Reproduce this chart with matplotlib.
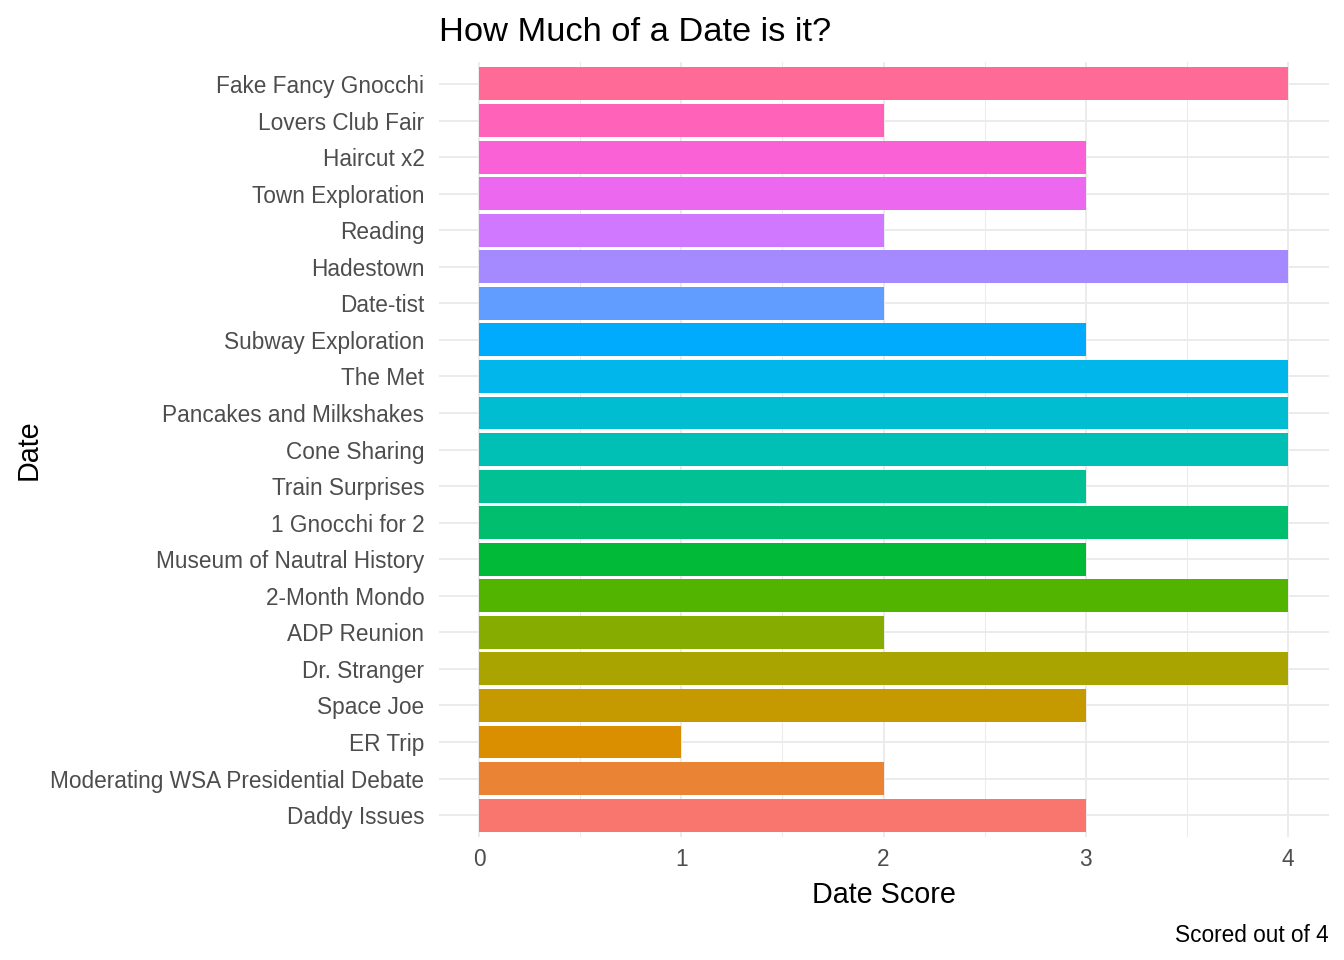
import numpy as np
import matplotlib.pyplot as plt

# dates listed bottom to top (factor order)
dates = ["Daddy Issues", "Moderating WSA Presidential Debate", "ER Trip", "Space Joe",
         "Dr. Stranger", "ADP Reunion", "2-Month Mondo", "Museum of Nautral History",
         "1 Gnocchi for 2", "Train Surprises", "Cone Sharing", "Pancakes and Milkshakes",
         "The Met", "Subway Exploration", "Date-tist", "Hadestown", "Reading",
         "Town Exploration", "Haircut x2", "Lovers Club Fair", "Fake Fancy Gnocchi"]
scores = [3, 2, 1, 3, 4, 2, 4, 3, 4, 3, 4, 4, 4, 3, 2, 4, 2, 3, 3, 2, 4]


def hcl_to_hex(h, c=100, l=65):
    # polar LUV -> XYZ -> sRGB, like R's hcl()
    wx, wy, wz = 95.047, 100.0, 108.883
    u = c * np.cos(np.radians(h))
    v = c * np.sin(np.radians(h))
    y = wy * (((l + 16) / 116) ** 3 if l > 8 else l / 903.3)
    un = 4 * wx / (wx + 15 * wy + 3 * wz)
    vn = 9 * wy / (wx + 15 * wy + 3 * wz)
    up = u / (13 * l) + un
    vp = v / (13 * l) + vn
    x = 9.0 * y * up / (4 * vp)
    z = -x / 3 - 5 * y + 3 * y / vp
    x, y, z = x / 100, y / 100, z / 100
    r = 3.240479 * x - 1.537150 * y - 0.498535 * z
    g = -0.969256 * x + 1.875992 * y + 0.041556 * z
    b = 0.055648 * x - 0.204043 * y + 1.057311 * z

    def gam(t):
        t = 1.055 * t ** (1 / 2.4) - 0.055 if t > 0.0031308 else 12.92 * t
        return int(round(255 * min(max(t, 0), 1)))
    return "#{:02X}{:02X}{:02X}".format(gam(r), gam(g), gam(b))


n = len(dates)
hues = np.linspace(15, 375, n + 1)[:n]
colors = [hcl_to_hex(h) for h in hues]

plt.rcParams['font.family'] = ['Liberation Sans', 'DejaVu Sans']

fig = plt.figure(figsize=(7, 5), dpi=192)
ax = fig.add_axes([0.3263, 0.1281, 0.6622, 0.8073])

ypos = np.arange(n)
ax.barh(ypos, scores, height=0.9, color=colors, zorder=3)

ax.set_xlim(-0.2, 4.2)
ax.set_ylim(-0.6, n - 1 + 0.6)
ax.set_yticks(ypos)
ax.set_yticklabels(dates)
ax.set_xticks([0, 1, 2, 3, 4])
ax.set_xticks([0.5, 1.5, 2.5, 3.5], minor=True)
ax.tick_params(axis="both", which="both", length=0, labelsize=8.5, labelcolor="#4D4D4D")
ax.tick_params(axis="y", pad=5.3)
ax.tick_params(axis="x", pad=4)

for s in ax.spines.values():
    s.set_visible(False)
ax.grid(which="major", color="#EBEBEB", linewidth=0.75, zorder=0)
ax.grid(which="minor", axis="x", color="#EBEBEB", linewidth=0.4, zorder=0)
ax.set_axisbelow(True)

ax.set_xlabel("Date Score", fontsize=10.8, labelpad=4)
ax.set_ylabel("Date", fontsize=10.8)
ax.yaxis.set_label_coords(-0.445, 0.5)
ax.set_title("How Much of a Date is it?", fontsize=12.9, loc="left", pad=8)
fig.text(0.9885, 0.019, "Scored out of 4", fontsize=8.5, ha="right", va="baseline")

fig.savefig("out.png", dpi=192)
